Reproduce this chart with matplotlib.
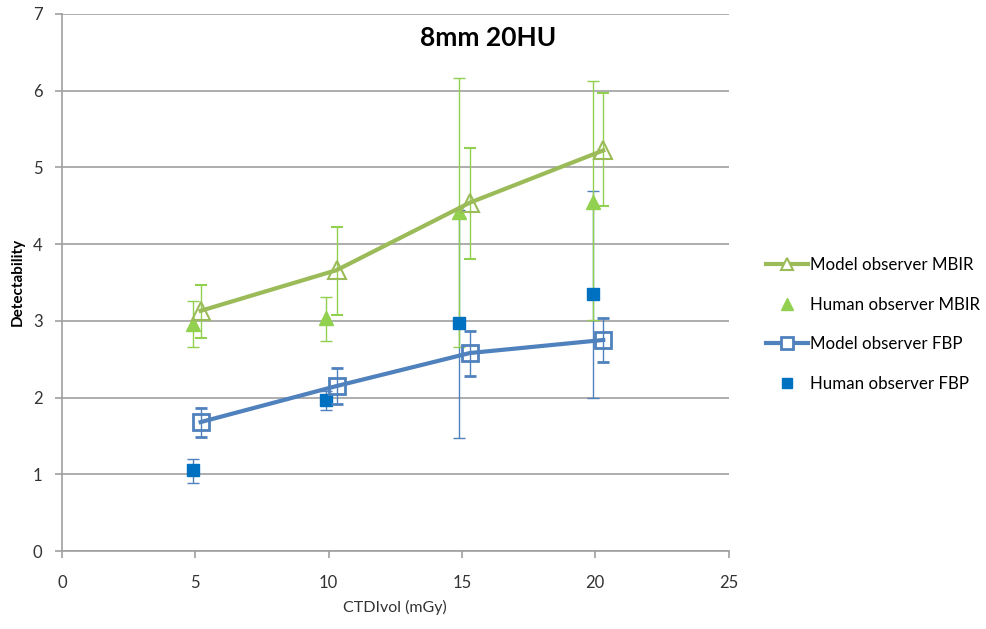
import numpy as np
import matplotlib.pyplot as plt
from matplotlib.lines import Line2D

plt.rcParams['font.family'] = ['Lato', 'DejaVu Sans']

# Dose levels (CTDIvol, mGy); model points are shifted slightly right
dose_model = [5.2, 10.3, 15.3, 20.3]
dose_human = [4.9, 9.9, 14.9, 19.9]

# Model observer MBIR
mbir_model = [3.13, 3.66, 4.54, 5.22]
mbir_model_lo = [2.77, 3.08, 3.81, 4.49]
mbir_model_hi = [3.46, 4.22, 5.25, 5.97]

# Human observer MBIR
mbir_human = [2.96, 3.03, 4.42, 4.55]
mbir_human_lo = [2.66, 2.74, 2.66, 3.01]
mbir_human_hi = [3.26, 3.31, 6.17, 6.12]

# Model observer FBP
fbp_model = [1.68, 2.15, 2.58, 2.75]
fbp_model_lo = [1.48, 1.92, 2.28, 2.46]
fbp_model_hi = [1.87, 2.38, 2.87, 3.04]

# Human observer FBP
fbp_human = [1.06, 1.97, 2.97, 3.35]
fbp_human_lo = [0.89, 1.84, 1.47, 1.99]
fbp_human_hi = [1.20, 2.08, 4.45, 4.69]

green_line = '#9BBB59'
green_fill = '#92D050'
blue_line = '#4F81BD'
blue_fill = '#0070C0'


def err(v, lo, hi):
    v = np.array(v)
    return [v - np.array(lo), np.array(hi) - v]


fig = plt.figure(figsize=(9.86, 6.29), dpi=100)
ax = fig.add_axes([0.0629, 0.124, 0.676, 0.854])

ax.errorbar(dose_human, fbp_human, yerr=err(fbp_human, fbp_human_lo, fbp_human_hi),
            fmt='s', color=blue_fill, ms=8, ecolor=blue_line, elinewidth=1,
            capsize=4, capthick=1, zorder=3)
ax.errorbar(dose_human, mbir_human, yerr=err(mbir_human, mbir_human_lo, mbir_human_hi),
            fmt='^', color=green_fill, ms=10, ecolor=green_fill, elinewidth=1,
            capsize=4, capthick=1, zorder=3)
ax.errorbar(dose_model, fbp_model, yerr=err(fbp_model, fbp_model_lo, fbp_model_hi),
            fmt='-s', color=blue_line, lw=3, ms=11, mfc='none', mew=2,
            ecolor=blue_line, elinewidth=1, capsize=4, capthick=1, zorder=4)
ax.errorbar(dose_model, mbir_model, yerr=err(mbir_model, mbir_model_lo, mbir_model_hi),
            fmt='-^', color=green_line, lw=3, ms=13, mfc='none', mew=1.5,
            ecolor=green_fill, elinewidth=1, capsize=4, capthick=1, zorder=4)

ax.set_xlim(0, 25)
ax.set_ylim(0, 7)
ax.set_xticks(range(0, 26, 5))
ax.set_yticks(range(0, 8))
ax.grid(axis='y', color='#a0a0a0', lw=1.2)
ax.set_axisbelow(True)
for s in ['top', 'right']:
    ax.spines[s].set_visible(False)
for s in ['left', 'bottom']:
    ax.spines[s].set_color('#a0a0a0')
    ax.spines[s].set_linewidth(1.2)
ax.tick_params(colors='#a0a0a0', labelcolor='#333333', labelsize=12, length=5, width=1.2)
ax.tick_params(axis='x', pad=12)
ax.tick_params(axis='y', pad=9)

ax.set_xlabel('CTDIvol (mGy)', fontsize=11.5, color='#333333', labelpad=7)
ax.set_ylabel('Detectability', fontsize=11, fontweight='bold', color='black', labelpad=6)
ax.text(0.64, 0.955, '8mm 20HU', transform=ax.transAxes, ha='center', va='center',
        fontsize=19, fontweight='bold')

# legend entries without error bars
handles = [
    Line2D([], [], color=green_line, lw=3, marker='^', ms=9, mfc='white', mew=1.5),
    Line2D([], [], ls='none', color=green_fill, marker='^', ms=8),
    Line2D([], [], color=blue_line, lw=3, marker='s', ms=9, mfc='white', mew=2),
    Line2D([], [], ls='none', color=blue_fill, marker='s', ms=7),
]
labels = ['Model observer MBIR', 'Human observer MBIR',
          'Model observer FBP', 'Human observer FBP']
fig.legend(handles, labels, loc='center left', bbox_to_anchor=(0.761, 0.484),
           frameon=False, fontsize=12.2, labelspacing=1.4, handlelength=2.5,
           handletextpad=0.1)

fig.savefig('out.png', dpi=100)
